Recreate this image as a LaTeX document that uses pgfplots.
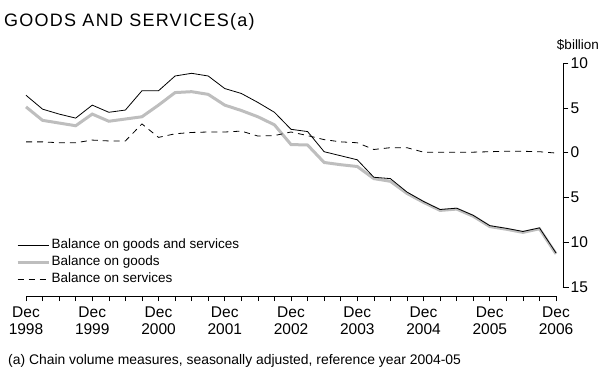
\documentclass[border=0pt]{standalone}
\usepackage{pgfplots}
\pgfplotsset{compat=1.18}
\usepackage{fontspec}
\setmainfont{Liberation Sans}
\newfontfamily\titlefont[LetterSpace=7]{Liberation Sans}
\definecolor{goodsgrey}{RGB}{190,190,190}
\newcommand{\mn}{\rule[0.27em]{0.42em}{0.075em}\kern0.11em}
\newcommand{\ph}{\hspace*{0.53em}}
\begin{document}
\begin{tikzpicture}
\begin{axis}[name=ax, scale only axis, width=537.3bp, height=233bp,
  xmin=0, xmax=32.44, ymin=-16, ymax=10, clip=false,
  axis x line=bottom, axis y line=right, axis line style={draw=none,-},
  xtick={0,4,...,32}, minor xtick={0,1,...,32},
  xticklabels={Dec\\1998,Dec\\1999,Dec\\2000,Dec\\2001,Dec\\2002,Dec\\2003,Dec\\2004,Dec\\2005,Dec\\2006},
  xtick align=outside, ytick align=outside,
  major tick length=5bp, minor tick length=5bp,
  tick style={black, line width=0.6bp},
  ytick={-15,-10,-5,0,5,10},
  yticklabels={{\mn15},{\mn10},{\mn5},{\ph0},{\ph5},{\ph10}},
  xticklabel style={align=center, font=\fontsize{15.5bp}{17bp}\selectfont, inner sep=0pt, yshift=-6bp},
  yticklabel style={font=\fontsize{15.5bp}{17bp}\selectfont, anchor=west, inner sep=0pt, xshift=-6bp},
  legend style={at={(-0.0186,0.2534)}, anchor=north west, draw=none, fill=none,
    inner sep=0pt, outer sep=0pt, row sep=0bp, font=\fontsize{13.5bp}{16bp}\selectfont,
    cells={anchor=west}, nodes={inner sep=1.5bp, text height=10bp, text depth=4bp}},
  legend image code/.code={\draw[#1] (0bp,0bp) -- (31bp,0bp);},
]
\addplot[goodsgrey, line width=3bp, forget plot] coordinates {
(0,5.1) (1,3.6) (2,3.3) (3,3.0) (4,4.3) (5,3.5) (6,3.75) (7,4.0) (8,5.3) (9,6.7)
(10,6.8) (11,6.5) (12,5.3) (13,4.7) (14,4.0) (15,3.1) (16,0.9) (17,0.85) (18,-1.1) (19,-1.35)
(20,-1.55) (21,-2.9) (22,-3.2) (23,-4.55) (24,-5.55) (25,-6.45) (26,-6.3) (27,-7.1) (28,-8.25) (29,-8.55)
(30,-8.9) (31,-8.5) (32,-11.3)};
\addplot[black, line width=0.8bp] coordinates {
(0,6.4) (1,4.85) (2,4.3) (3,3.85) (4,5.3) (5,4.5) (6,4.75) (7,6.9) (8,6.9) (9,8.55)
(10,8.85) (11,8.55) (12,7.15) (13,6.6) (14,5.6) (15,4.5) (16,2.6) (17,2.35) (18,0.1) (19,-0.35)
(20,-0.8) (21,-2.75) (22,-2.9) (23,-4.4) (24,-5.45) (25,-6.35) (26,-6.2) (27,-7.0) (28,-8.15) (29,-8.45)
(30,-8.8) (31,-8.4) (32,-11.2)};
\addlegendentry{Balance on goods and services}
\addlegendimage{goodsgrey, line width=3bp}
\addlegendentry{Balance on goods}
\addplot[black, line width=0.8bp, dash pattern=on 6bp off 5bp] coordinates {
(0,1.2) (1,1.2) (2,1.1) (3,1.1) (4,1.4) (5,1.3) (6,1.3) (7,3.2) (8,1.7) (9,2.1)
(10,2.25) (11,2.3) (12,2.3) (13,2.4) (14,1.85) (15,1.9) (16,2.3) (17,1.9) (18,1.45) (19,1.2)
(20,1.1) (21,0.35) (22,0.55) (23,0.55) (24,0.05) (25,0.05) (26,0.05) (27,0.05) (28,0.1) (29,0.15)
(30,0.15) (31,0.1) (32,-0.05)};
\addlegendentry{Balance on services}
\draw[line width=0.6bp] (axis cs:0,-16) -- (axis cs:32,-16);
\draw[line width=0.6bp] (axis cs:32.44,-15) -- (axis cs:32.44,10);
\end{axis}
\node[anchor=base west, font=\titlefont\fontsize{18bp}{20bp}\selectfont, inner sep=0pt] at ([shift={(-22bp,269bp)}]ax.south west) {GOODS AND SERVICES(a)};
\node[anchor=center, font=\fontsize{13.5bp}{15bp}\selectfont, inner sep=0pt] at ([shift={(552bp,251bp)}]ax.south west) {\$billion};
\node[anchor=base west, font=\fontsize{13.9bp}{15bp}\selectfont, inner sep=0pt] at ([shift={(-18bp,-68bp)}]ax.south west) {(a) Chain volume measures, seasonally adjusted, reference year 2004-05};
\pgfresetboundingbox
\path ([shift={(-26bp,-77bp)}]ax.south west) rectangle ([shift={(586bp,296bp)}]ax.south west);
\end{tikzpicture}
\end{document}
